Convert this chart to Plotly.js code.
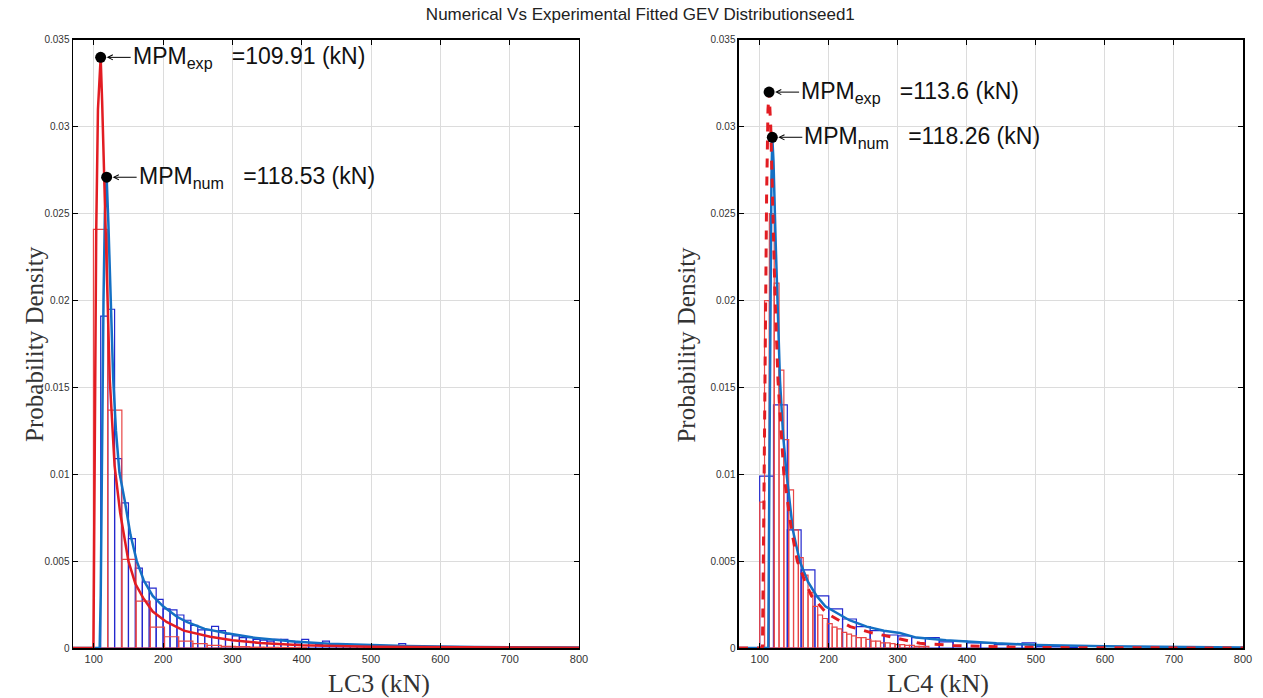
<!DOCTYPE html>
<html>
<head>
<meta charset="utf-8">
<script src="https://cdn.plot.ly/plotly-3.0.1.min.js"></script>
<style>
  html, body { margin: 0; padding: 0; background: #fff; }
  #chart { width: 1263px; height: 698px; }
</style>
</head>
<body>
<div id="chart"></div>
<script>
// ---- data ----
const chartTitle = "Numerical Vs Experimental Fitted GEV Distributionseed1";
const panelLabels = ["LC3 (kN)", "LC4 (kN)"];

const xTickVals = [100, 200, 300, 400, 500, 600, 700, 800];
const yTickVals = [0, 0.005, 0.01, 0.015, 0.02, 0.025, 0.03, 0.035];
const yTickText = ["0", "0.005", "0.01", "0.015", "0.02", "0.025", "0.03", "0.035"];

// LC3 numerical histogram (bins of 10 kN from 110)
const lc3NumBinStart = 110;
const lc3NumBinWidth = 10;
const lc3NumHist = [
  0.0191, 0.0195, 0.0109, 0.00835, 0.0063, 0.0046, 0.0038, 0.00345, 0.0028, 0.00225,
  0.0022, 0.0019, 0.0016, 0.0013, 0.00105, 0.00105, 0.00125, 0.001, 0.0008, 0.0007,
  0.0006, 0.0006, 0.0005, 0.00045, 0.0004, 0.0005, 0.0005, 0.0004, 0.0003, 0.0005,
  0.0003, 0.0002, 0.0004, 0.0002, 0.00015, 0.00015, 0.0001, 0.0001, 0.0001, 0.00005,
  0.00005, 0.00005, 0.00005, 0.00025, 0.00005,
];

// LC3 experimental histogram (bins of 20.5 kN from 99.5)
const lc3ExpBinStart = 99.5;
const lc3ExpBinWidth = 20.5;
const lc3ExpHist = [
  0.0241, 0.0137, 0.0051, 0.0027, 0.0012, 0.00065, 0.0004, 0.00025, 0.00015, 0.0001,
  0.00008, 0.00005, 0.00004, 0.00003, 0.00002,
];

// LC4 numerical histogram (bins of 20 kN from 100)
const lc4NumBinStart = 100;
const lc4NumBinWidth = 20;
const lc4NumHist = [
  0.0099, 0.014, 0.0068, 0.0045, 0.003, 0.00225, 0.00167, 0.00123, 0.001, 0.00075,
  0.0007, 0.0006, 0.0006, 0.00035, 0.0004, 0.0003, 0.0003, 0.0002, 0.0002, 0.0003,
  0.0001, 0.0001, 0.00005,
];

// LC4 experimental histogram (bins of 7 kN from 100)
const lc4ExpBinStart = 100;
const lc4ExpBinWidth = 7;
const lc4ExpHist = [
  0.0084, 0.020, 0.025, 0.021, 0.016, 0.012, 0.0091, 0.0068, 0.0052, 0.0042,
  0.0032, 0.0024, 0.0019, 0.0017, 0.0014, 0.0012, 0.0011, 0.0009, 0.0008, 0.0007,
  0.0006, 0.0006, 0.0005, 0.0004, 0.0004, 0.0003, 0.0003, 0.00025, 0.0002, 0.0002,
  0.00015, 0.00015, 0.0001, 0.0001, 0.0001,
];

// fitted GEV curves
const lc3NumX = [70, 108.5, 110, 112, 114, 116, 118.53, 121, 124, 128, 132, 137, 145, 153, 162, 172, 185, 200, 220, 234, 260, 292, 330, 388, 440, 484, 550, 650, 800];
const lc3NumY = [0, 0, 0.003, 0.012, 0.02, 0.025, 0.0271, 0.0245, 0.0205, 0.0155, 0.0125, 0.0101, 0.0084, 0.0065, 0.005, 0.0039, 0.003, 0.0024, 0.0018, 0.0015, 0.0011, 0.00085, 0.0006, 0.00037, 0.00025, 0.00018, 0.00011, 0.00006, 0.00003];

const lc3ExpX = [70, 99.5, 100.5, 102, 103.5, 106, 109.91, 112, 115, 118, 123, 130, 138, 150, 160, 171, 185, 205, 230, 268, 300, 340, 400, 500, 650, 800];
const lc3ExpY = [0, 0, 0.006, 0.016, 0.024, 0.031, 0.034, 0.0315, 0.027, 0.022, 0.0155, 0.0105, 0.0078, 0.005, 0.0037, 0.0029, 0.0021, 0.0015, 0.001, 0.00065, 0.00045, 0.00029, 0.00016, 0.00007, 0.00002, 0.00001];

const lc4NumX = [70, 112.5, 114, 115.5, 117, 118.26, 120, 123, 126, 129.4, 134, 139, 148, 158, 170, 182.5, 195, 211.5, 230, 255, 280, 303, 327, 370, 443, 500, 600, 800];
const lc4NumY = [0, 0, 0.01, 0.02, 0.027, 0.0294, 0.028, 0.0235, 0.019, 0.0154, 0.0122, 0.01, 0.0068, 0.005, 0.0038, 0.003, 0.0024, 0.002, 0.0016, 0.00123, 0.001, 0.00086, 0.0006, 0.00045, 0.00027, 0.00018, 0.0001, 0.00003];

const lc4ExpX = [70, 104, 106, 108, 110, 112, 113.6, 116, 119, 122, 126.5, 135, 146, 154.5, 165, 175, 197, 231, 260, 289, 332, 380, 450, 550, 800];
const lc4ExpY = [0, 0, 0.008, 0.018, 0.026, 0.031, 0.032, 0.03, 0.025, 0.0205, 0.0154, 0.01, 0.0068, 0.005, 0.0039, 0.003, 0.002, 0.00123, 0.0009, 0.00065, 0.00027, 0.00015, 0.00006, 0.00002, 0];

// most probable maxima
const mpmLabels = ["exp", "num", "exp", "num"];
const mpmX = [109.91, 118.53, 113.6, 118.26];
const mpmY = [0.034, 0.0271, 0.032, 0.0294];
const mpmPanel = [1, 1, 2, 2];

// ---- styles ----
const BLUE_LINE = "rgb(20,112,196)";
const BLUE_EDGE = "rgb(35,40,205)";
const RED_LINE = "rgb(226,28,34)";
const RED_EDGE = "rgb(232,70,70)";
const GRID = "#dcdcdc";
const SANS = "Liberation Sans, Arial, sans-serif";
const SERIF = "Liberation Serif, Times New Roman, serif";

function histTrace(start, width, values, color, lineWidth, axis) {
  return {
    type: "bar",
    x: values.map((_, i) => start + width * (i + 0.5)),
    y: values,
    width: values.map(() => width),
    marker: { color: "rgba(0,0,0,0)", line: { color: color, width: lineWidth } },
    xaxis: "x" + axis, yaxis: "y" + axis,
    hoverinfo: "skip",
    showlegend: false,
  };
}

function curveTrace(xs, ys, color, width, dash, axis) {
  return {
    type: "scatter", mode: "lines",
    x: xs, y: ys,
    line: { color: color, width: width, dash: dash },
    xaxis: "x" + axis, yaxis: "y" + axis,
    showlegend: false,
  };
}

function axisX(domain, anchor) {
  return {
    domain: domain, anchor: anchor,
    range: [70, 800],
    tickvals: xTickVals,
    ticks: "inside", ticklen: 5, tickcolor: "#000", tickwidth: 1,
    showline: true, linecolor: "#000", linewidth: 1.5, mirror: "ticks",
    showgrid: true, gridcolor: GRID, gridwidth: 1,
    zeroline: false,
    tickfont: { family: SANS, size: 11, color: "#333" },
  };
}

function axisY(anchor) {
  return {
    domain: [0.0716, 0.9427], anchor: anchor,
    range: [0, 0.035],
    tickvals: yTickVals, ticktext: yTickText,
    ticks: "inside", ticklen: 5, tickcolor: "#000", tickwidth: 1,
    showline: true, linecolor: "#000", linewidth: 1.5, mirror: "ticks",
    showgrid: true, gridcolor: GRID, gridwidth: 1,
    zeroline: false,
    tickfont: { family: SANS, size: 10, color: "#333" },
  };
}

const traces = [
  histTrace(lc3NumBinStart, lc3NumBinWidth, lc3NumHist, BLUE_EDGE, 1.2, ""),
  histTrace(lc3ExpBinStart, lc3ExpBinWidth, lc3ExpHist, RED_EDGE, 1.2, ""),
  curveTrace(lc3NumX, lc3NumY, BLUE_LINE, 2.5, "solid", ""),
  curveTrace(lc3ExpX, lc3ExpY, RED_LINE, 2.5, "solid", ""),
  histTrace(lc4NumBinStart, lc4NumBinWidth, lc4NumHist, BLUE_EDGE, 1.2, "2"),
  histTrace(lc4ExpBinStart, lc4ExpBinWidth, lc4ExpHist, RED_EDGE, 1.2, "2"),
  curveTrace(lc4NumX, lc4NumY, BLUE_LINE, 2.5, "solid", "2"),
  curveTrace(lc4ExpX, lc4ExpY, RED_LINE, 3, "dash", "2"),
];

// black dots at the modes
[1, 2].forEach((p) => {
  const idx = mpmPanel.map((v, i) => (v === p ? i : -1)).filter((i) => i >= 0);
  traces.push({
    type: "scatter", mode: "markers",
    x: idx.map((i) => mpmX[i]), y: idx.map((i) => mpmY[i]),
    marker: { color: "#000", size: 11 },
    xaxis: p === 1 ? "x" : "x2", yaxis: p === 1 ? "y" : "y2",
    showlegend: false,
  });
});

const annotations = mpmX.map((x, i) => ({
  x: x, y: mpmY[i],
  xref: mpmPanel[i] === 1 ? "x" : "x2",
  yref: mpmPanel[i] === 1 ? "y" : "y2",
  text: "MPM<sub>" + mpmLabels[i] + "</sub>&nbsp;&nbsp; =" + x + " (kN)",
  showarrow: true, arrowhead: 5, arrowsize: 1, arrowwidth: 1, arrowcolor: "#000",
  ax: 30, ay: 0, xanchor: "left", standoff: 6,
  font: { family: SANS, size: 23, color: "#111" },
}));

// axis titles
annotations.push(
  { text: panelLabels[0], xref: "paper", yref: "paper", x: 0.2581, y: -0.003, yanchor: "bottom", showarrow: false,
    font: { family: SERIF, size: 26, color: "#333" } },
  { text: panelLabels[1], xref: "paper", yref: "paper", x: 0.7846, y: -0.003, yanchor: "bottom", showarrow: false,
    font: { family: SERIF, size: 26, color: "#333" } },
  { text: "Probability Density", xref: "paper", yref: "paper", x: 0.0145, y: 0.507, textangle: -90, showarrow: false,
    font: { family: SERIF, size: 25, color: "#333" } },
  { text: "Probability Density", xref: "paper", yref: "paper", x: 0.5435, y: 0.507, textangle: -90, showarrow: false,
    font: { family: SERIF, size: 25, color: "#333" } },
);

const layout = {
  width: 1263, height: 698,
  margin: { l: 0, r: 0, t: 0, b: 0 },
  paper_bgcolor: "#fff", plot_bgcolor: "#fff",
  barmode: "overlay",
  title: {
    text: chartTitle,
    x: 0.507, xanchor: "center",
    y: 0.98, yanchor: "middle",
    font: { family: "Liberation Sans Narrow, Arial Narrow, sans-serif", size: 17, color: "#222" },
  },
  xaxis: axisX([0.0578, 0.4584], "y"),
  yaxis: axisY("x"),
  xaxis2: axisX([0.5851, 0.9842], "y2"),
  yaxis2: axisY("x2"),
  annotations: annotations,
  showlegend: false,
};

Plotly.newPlot("chart", traces, layout, { displayModeBar: false, staticPlot: true });
</script>
</body>
</html>
